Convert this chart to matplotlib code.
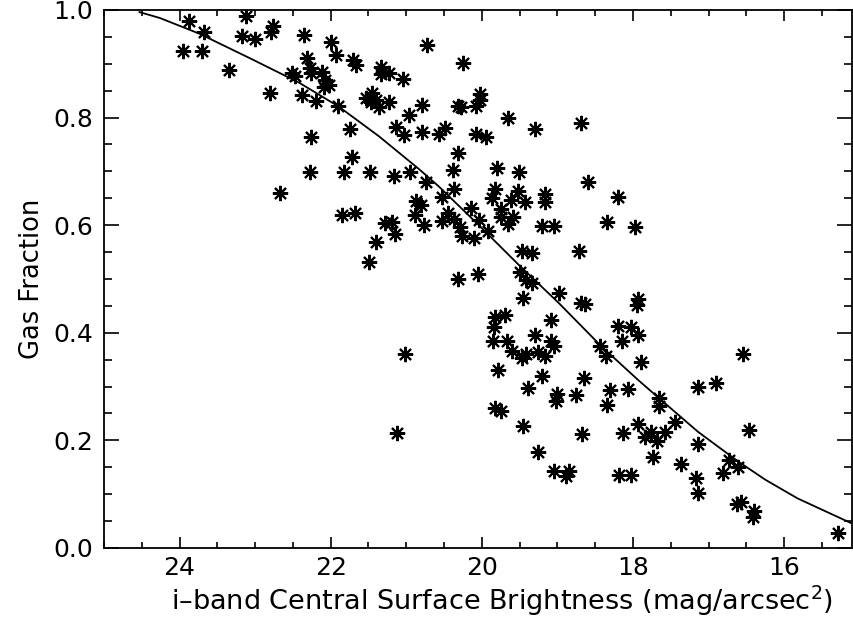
import matplotlib.pyplot as plt
from matplotlib.ticker import MultipleLocator

# central surface brightness (mag/arcsec^2) and gas fraction
mu_i = [
    23.87, 23.68, 23.95, 23.70, 23.34, 23.12, 23.18, 23.00, 22.77, 22.79,
    22.81, 22.36, 21.99, 21.93, 21.70, 21.66, 22.32, 22.28, 22.26, 22.51,
    22.47, 22.11, 22.07, 22.02, 22.09, 22.38, 22.20, 21.91, 21.74, 22.26,
    21.72, 22.27, 21.82, 22.67, 21.85, 21.68,
    20.73, 20.25, 21.33, 21.33, 21.23, 21.04, 21.45, 21.53, 21.47, 21.40,
    21.36, 21.23, 20.79, 20.96, 20.32, 20.28, 20.08, 20.03, 20.03, 19.66,
    19.30, 18.69, 21.14, 21.03, 20.79, 20.57, 20.49, 20.08, 19.95, 20.32,
    21.48, 21.16, 20.95, 20.74, 20.38, 19.80, 19.51, 18.59, 20.53, 20.37,
    19.82, 19.87, 19.52, 19.62, 19.43, 19.17, 19.17, 20.87, 20.81, 20.88,
    20.77, 21.28, 21.19, 21.15, 21.40, 21.49, 20.53, 20.45, 20.37, 20.29,
    20.26, 20.11, 20.15, 20.04, 19.92, 19.74, 19.74, 19.66, 19.59, 19.21,
    19.05, 18.20, 18.35, 17.97, 19.47, 19.33, 18.72, 19.49, 19.42, 19.33,
    20.32, 20.05, 19.46, 18.98, 18.69, 18.63,
    19.83, 19.70, 19.84, 19.85, 19.67, 19.60, 19.47, 19.41, 19.26, 19.17,
    19.29, 19.08, 19.08, 19.05, 19.78, 19.20, 19.39, 19.01, 19.02, 18.75,
    18.65, 19.83, 19.74, 19.45, 18.67, 19.26, 19.04, 18.85, 18.88, 21.02,
    21.12,
    17.93, 17.95, 18.20, 18.03, 17.94, 18.14, 18.43, 18.36, 17.89, 16.54,
    18.30, 18.06, 18.35, 17.14, 16.90, 17.65, 17.65, 17.44, 18.13, 17.94,
    17.84, 17.76, 17.68, 17.58, 17.73, 17.14, 16.46, 17.36, 18.19, 18.02,
    17.16, 17.14, 16.81, 16.73, 16.61, 16.63, 16.57, 16.40, 16.41, 15.29,
]
gas_frac = [
    0.980, 0.959, 0.924, 0.924, 0.889, 0.989, 0.952, 0.946, 0.970, 0.959,
    0.846, 0.954, 0.941, 0.917, 0.907, 0.898, 0.911, 0.893, 0.883, 0.883,
    0.878, 0.885, 0.870, 0.861, 0.856, 0.841, 0.830, 0.822, 0.778, 0.763,
    0.726, 0.698, 0.698, 0.659, 0.619, 0.622,
    0.935, 0.902, 0.894, 0.881, 0.883, 0.872, 0.846, 0.837, 0.828, 0.833,
    0.820, 0.828, 0.824, 0.804, 0.822, 0.820, 0.822, 0.843, 0.833, 0.800,
    0.778, 0.789, 0.783, 0.767, 0.774, 0.769, 0.780, 0.769, 0.763, 0.735,
    0.698, 0.691, 0.698, 0.681, 0.702, 0.707, 0.698, 0.680, 0.652, 0.667,
    0.667, 0.650, 0.663, 0.646, 0.643, 0.657, 0.643, 0.644, 0.637, 0.619,
    0.600, 0.604, 0.606, 0.583, 0.569, 0.532, 0.607, 0.622, 0.611, 0.596,
    0.580, 0.576, 0.632, 0.609, 0.589, 0.630, 0.615, 0.602, 0.615, 0.598,
    0.598, 0.652, 0.606, 0.596, 0.552, 0.548, 0.552, 0.513, 0.498, 0.493,
    0.500, 0.509, 0.465, 0.474, 0.456, 0.454,
    0.430, 0.433, 0.411, 0.385, 0.385, 0.367, 0.354, 0.361, 0.365, 0.357,
    0.396, 0.424, 0.385, 0.376, 0.330, 0.320, 0.298, 0.287, 0.274, 0.285,
    0.315, 0.261, 0.254, 0.226, 0.211, 0.178, 0.143, 0.143, 0.133, 0.361,
    0.213,
    0.463, 0.452, 0.413, 0.411, 0.396, 0.385, 0.376, 0.356, 0.346, 0.361,
    0.293, 0.296, 0.265, 0.300, 0.307, 0.278, 0.263, 0.235, 0.213, 0.231,
    0.206, 0.215, 0.198, 0.215, 0.169, 0.193, 0.220, 0.157, 0.135, 0.135,
    0.130, 0.102, 0.139, 0.163, 0.150, 0.081, 0.085, 0.069, 0.057, 0.028,
]

# fitted relation
fit_mu = [24.53, 24.26, 23.74, 23.08, 22.42, 21.89, 21.36, 20.83, 20.57, 20.04,
          19.51, 18.98, 18.42, 17.93, 17.66, 17.14, 16.61, 16.25, 15.82, 15.11]
fit_gas = [0.996, 0.985, 0.956, 0.911, 0.865, 0.820, 0.765, 0.704, 0.672, 0.600,
           0.526, 0.455, 0.375, 0.312, 0.279, 0.216, 0.161, 0.127, 0.092, 0.046]

plt.rcParams['font.family'] = 'DejaVu Sans'

fig = plt.figure(figsize=(8.54, 6.3), dpi=100)
ax = fig.add_axes([0.1218, 0.1302, 0.876, 0.854])

ax.plot(mu_i, gas_frac, linestyle='none', marker=(8, 2, 0), markersize=11,
        markeredgewidth=1.5, color='black')
ax.plot(fit_mu, fit_gas, color='black', linewidth=1.3)

ax.set_xlim(25.0, 15.1)
ax.set_ylim(0.0, 1.0)
ax.xaxis.set_major_locator(MultipleLocator(2))
ax.xaxis.set_minor_locator(MultipleLocator(0.5))
ax.yaxis.set_major_locator(MultipleLocator(0.2))
ax.yaxis.set_minor_locator(MultipleLocator(0.05))
ax.yaxis.set_major_formatter(plt.FormatStrFormatter('%.1f'))

ax.tick_params(which='both', direction='in', top=True, right=True,
               labelsize=18, width=1.2)
ax.tick_params(axis='x', which='major', length=8, pad=6)
ax.tick_params(axis='x', which='minor', length=4)
ax.tick_params(axis='y', which='major', length=11, pad=8)
ax.tick_params(axis='y', which='minor', length=5.5)
for s in ax.spines.values():
    s.set_linewidth(1.3)

ax.set_xlabel('i\u2013band Central Surface Brightness (mag/arcsec$^2$)',
              fontsize=19.5, labelpad=2)
ax.xaxis.label.set_x(0.532)
ax.set_ylabel('Gas Fraction', fontsize=18.5, labelpad=6)

fig.savefig('out.png', dpi=100)
